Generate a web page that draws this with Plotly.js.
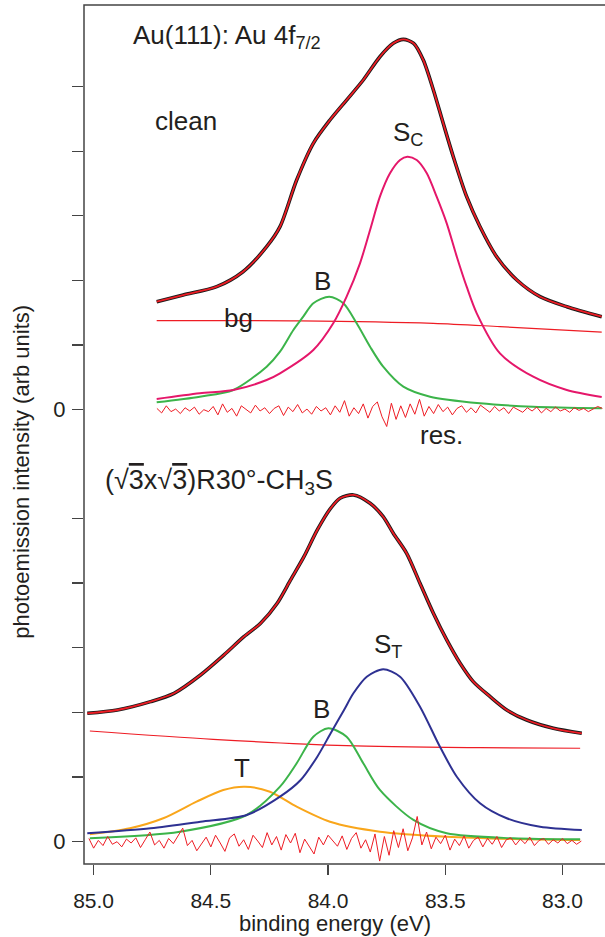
<!DOCTYPE html>
<html>
<head>
<meta charset="utf-8">
<script src="https://cdn.plot.ly/plotly-3.0.1.min.js"></script>
<style>html,body{margin:0;padding:0;background:#fff;}#chart{width:605px;height:937px;}</style>
</head>
<body>
<div id="chart"></div>
<script>
// ---------- clean Au(111) panel (binding energy in eV, intensity in arb. units) ----------
const cleanDataE = [84.731, 84.618, 84.475, 84.363, 84.262, 84.205, 84.134, 84.063, 83.992, 83.921, 83.850, 83.779, 83.722, 83.679, 83.635, 83.594, 83.551, 83.509, 83.466, 83.409, 83.352, 83.281, 83.195, 83.096, 82.982, 82.833];
const cleanDataI = [1.671, 1.774, 1.903, 2.134, 2.521, 2.831, 3.553, 4.121, 4.481, 4.790, 5.100, 5.460, 5.667, 5.729, 5.667, 5.409, 4.945, 4.430, 3.913, 3.295, 2.831, 2.367, 2.006, 1.748, 1.593, 1.439];
const cleanScE = [84.731, 84.547, 84.404, 84.262, 84.205, 84.063, 83.978, 83.921, 83.864, 83.821, 83.779, 83.736, 83.693, 83.662, 83.622, 83.579, 83.537, 83.494, 83.451, 83.409, 83.366, 83.267, 83.125, 82.982, 82.833];
const cleanScI = [0.166, 0.254, 0.305, 0.459, 0.563, 0.923, 1.336, 1.748, 2.264, 2.780, 3.295, 3.657, 3.862, 3.913, 3.862, 3.657, 3.295, 2.883, 2.367, 1.903, 1.491, 0.872, 0.510, 0.305, 0.196];
const cleanBE = [84.731, 84.547, 84.404, 84.262, 84.205, 84.148, 84.106, 84.063, 83.995, 83.935, 83.878, 83.821, 83.765, 83.679, 83.565, 83.352, 83.125, 82.833];
const cleanBI = [0.114, 0.201, 0.305, 0.665, 0.897, 1.233, 1.439, 1.646, 1.748, 1.646, 1.336, 0.974, 0.665, 0.356, 0.201, 0.099, 0.046, 0.022];
const cleanBgE = [84.731, 84.120, 83.551, 83.267, 82.833];
const cleanBgI = [1.377, 1.375, 1.336, 1.285, 1.200];
const cleanRes = [[84.73,0.02],[84.71,-0.05],[84.69,0.06],[84.67,-0.03],[84.65,0.01],[84.63,-0.06],[84.61,0.03],[84.59,-0.02],[84.57,0.04],[84.55,-0.07],[84.53,0.00],[84.51,-0.03],[84.49,0.05],[84.47,-0.08],[84.45,0.09],[84.43,-0.04],[84.41,0.02],[84.39,-0.10],[84.37,0.06],[84.35,0.01],[84.33,-0.05],[84.31,0.07],[84.29,-0.02],[84.27,0.03],[84.25,-0.06],[84.23,0.02],[84.21,0.06],[84.19,-0.09],[84.17,0.04],[84.15,-0.03],[84.13,0.08],[84.11,-0.05],[84.09,0.01],[84.07,-0.07],[84.05,0.05],[84.03,-0.02],[84.01,0.03],[83.99,-0.08],[83.97,0.06],[83.95,-0.04],[83.93,0.14],[83.91,-0.10],[83.89,0.03],[83.87,-0.06],[83.85,0.09],[83.83,-0.13],[83.81,0.05],[83.79,0.12],[83.77,-0.11],[83.75,-0.26],[83.73,0.10],[83.71,-0.15],[83.69,0.06],[83.67,-0.12],[83.65,0.09],[83.63,-0.07],[83.61,0.16],[83.59,-0.10],[83.57,0.05],[83.55,-0.06],[83.53,0.08],[83.51,-0.03],[83.49,0.04],[83.47,-0.08],[83.45,0.02],[83.43,0.06],[83.41,-0.04],[83.39,0.03],[83.37,-0.05],[83.35,0.07],[83.33,0.01],[83.31,-0.04],[83.29,0.05],[83.27,-0.02],[83.25,0.03],[83.23,-0.06],[83.21,0.04],[83.19,0.00],[83.17,-0.04],[83.15,0.03],[83.13,-0.02],[83.11,0.04],[83.09,-0.05],[83.07,0.02],[83.05,-0.03],[83.03,0.04],[83.01,-0.02],[82.99,0.01],[82.97,-0.04],[82.95,0.03],[82.93,-0.01],[82.91,0.02],[82.89,-0.03],[82.87,0.01],[82.85,0.05],[82.83,0.02]];

// ---------- (sqrt3 x sqrt3)R30-CH3S panel ----------
const thiolDataE = [85.027, 84.899, 84.757, 84.657, 84.544, 84.444, 84.359, 84.288, 84.217, 84.160, 84.103, 84.046, 83.989, 83.949, 83.892, 83.821, 83.765, 83.722, 83.665, 83.608, 83.551, 83.494, 83.437, 83.381, 83.309, 83.238, 83.153, 83.039, 82.918];
const thiolDataI = [1.986, 2.037, 2.166, 2.295, 2.578, 2.888, 3.171, 3.378, 3.688, 4.048, 4.408, 4.821, 5.157, 5.312, 5.363, 5.234, 5.027, 4.770, 4.461, 3.997, 3.533, 3.120, 2.759, 2.475, 2.243, 2.037, 1.882, 1.754, 1.677];
const thiolStE = [85.027, 84.757, 84.544, 84.347, 84.205, 84.117, 84.046, 83.989, 83.932, 83.892, 83.835, 83.765, 83.693, 83.608, 83.523, 83.451, 83.352, 83.238, 83.096, 82.918];
const thiolStI = [0.130, 0.207, 0.309, 0.413, 0.696, 0.954, 1.315, 1.677, 2.037, 2.295, 2.552, 2.667, 2.552, 2.088, 1.469, 1.005, 0.594, 0.362, 0.232, 0.181];
const thiolBE = [85.016, 84.632, 84.347, 84.205, 84.134, 84.063, 83.999, 83.921, 83.850, 83.779, 83.636, 83.494, 83.210, 82.925];
const thiolBI = [0.053, 0.155, 0.413, 0.851, 1.213, 1.624, 1.754, 1.624, 1.213, 0.800, 0.336, 0.130, 0.053, 0.037];
const thiolTE = [85.016, 84.845, 84.703, 84.561, 84.447, 84.355, 84.248, 84.134, 83.992, 83.779, 83.494, 83.210, 82.925];
const thiolTI = [0.114, 0.207, 0.362, 0.619, 0.800, 0.851, 0.773, 0.541, 0.309, 0.155, 0.077, 0.042, 0.026];
const thiolBgE = [85.016, 84.490, 83.921, 83.352, 82.925];
const thiolBgI = [1.712, 1.584, 1.485, 1.454, 1.445];
const thiolRes = [[85.02,0.05],[85.00,-0.10],[84.98,0.02],[84.96,-0.06],[84.94,0.08],[84.92,-0.04],[84.90,0.00],[84.88,-0.08],[84.86,0.04],[84.84,-0.02],[84.82,0.06],[84.80,-0.09],[84.78,0.03],[84.76,0.15],[84.74,-0.05],[84.72,0.02],[84.70,-0.10],[84.68,0.05],[84.66,-0.03],[84.64,0.08],[84.62,0.21],[84.60,-0.06],[84.58,0.02],[84.56,-0.14],[84.54,-0.04],[84.52,0.07],[84.50,-0.08],[84.48,0.10],[84.46,-0.02],[84.44,-0.15],[84.42,0.06],[84.40,0.12],[84.38,-0.07],[84.36,0.03],[84.34,-0.12],[84.32,0.10],[84.30,0.01],[84.28,-0.09],[84.26,0.14],[84.24,-0.05],[84.22,0.08],[84.20,-0.13],[84.18,0.11],[84.16,-0.02],[84.14,0.13],[84.12,-0.17],[84.10,0.04],[84.08,-0.08],[84.06,-0.19],[84.04,0.07],[84.02,-0.05],[84.00,0.10],[83.98,0.02],[83.96,-0.07],[83.94,0.09],[83.92,-0.12],[83.90,0.05],[83.88,0.14],[83.86,-0.10],[83.84,0.03],[83.82,-0.16],[83.80,0.12],[83.78,-0.30],[83.76,0.08],[83.74,-0.21],[83.72,0.17],[83.70,-0.09],[83.68,0.20],[83.66,-0.14],[83.64,0.06],[83.62,0.39],[83.60,-0.05],[83.58,0.15],[83.56,-0.11],[83.54,0.07],[83.52,-0.03],[83.50,0.10],[83.48,-0.13],[83.46,0.04],[83.44,-0.06],[83.42,0.09],[83.40,-0.10],[83.38,0.02],[83.36,0.07],[83.34,-0.08],[83.32,0.05],[83.30,-0.04],[83.28,0.08],[83.26,-0.09],[83.24,0.03],[83.22,0.06],[83.20,-0.05],[83.18,0.04],[83.16,-0.03],[83.14,0.07],[83.12,-0.06],[83.10,0.02],[83.08,0.05],[83.06,-0.04],[83.04,0.03],[83.02,-0.02],[83.00,0.05],[82.98,-0.03],[82.96,0.02],[82.94,-0.04],[82.92,0.01]];

// ---------- axis ticks ----------
const xTickVals = [85.0, 84.5, 84.0, 83.5, 83.0];
const xTickText = ['85.0', '84.5', '84.0', '83.5', '83.0'];
const yTickVals = [0, 1, 2, 3, 4, 5];
const yZeroVals = [0];
const yZeroText = ['0'];

// ---------- styling ----------
const FONT = 'Liberation Sans, Arial, Helvetica, sans-serif';
const TXT = '#231f20';
const C = { fit: '#ee1c24', data: '#1a1a1a', sc: '#e5176a', b: '#3cb44a', st: '#2e3192', t: '#f9a61b', bg: '#ee1c24', res: '#ee1c24' };

function line(x, y, color, width, yaxis, smooth) {
  return { x: x, y: y, type: 'scatter', mode: 'lines', yaxis: yaxis, hoverinfo: 'skip',
    line: { color: color, width: width, shape: smooth ? 'spline' : 'linear', smoothing: 0.8 } };
}

const traces = [
  // clean panel (top)
  line(cleanBgE, cleanBgI, C.bg, 1.2, 'y2', true),
  line(cleanBE, cleanBI, C.b, 2, 'y2', true),
  line(cleanScE, cleanScI, C.sc, 2, 'y2', true),
  line(cleanRes.map(p => p[0]), cleanRes.map(p => p[1]), C.res, 1, 'y2', false),
  line(cleanDataE, cleanDataI, C.data, 3.6, 'y2', true),
  line(cleanDataE, cleanDataI, C.fit, 1.8, 'y2', true),
  // thiol panel (bottom)
  line(thiolBgE, thiolBgI, C.bg, 1.2, 'y', true),
  line(thiolTE, thiolTI, C.t, 2, 'y', true),
  line(thiolBE, thiolBI, C.b, 2, 'y', true),
  line(thiolStE, thiolStI, C.st, 2, 'y', true),
  line(thiolRes.map(p => p[0]), thiolRes.map(p => p[1]), C.res, 1, 'y', false),
  line(thiolDataE, thiolDataI, C.data, 3.6, 'y', true),
  line(thiolDataE, thiolDataI, C.fit, 1.8, 'y', true),
  // empty traces so the "0"-label axes exist
  { x: [], y: [], type: 'scatter', yaxis: 'y3', hoverinfo: 'skip' },
  { x: [], y: [], type: 'scatter', yaxis: 'y4', hoverinfo: 'skip' }
];

const tickBase = { ticks: 'outside', ticklen: 11, tickwidth: 1.2, tickcolor: '#444', showgrid: false,
  zeroline: false, showline: false, fixedrange: true };
const yTicksOnly = Object.assign({ tickvals: yTickVals, showticklabels: false }, tickBase);
const yZeroLabel = Object.assign({}, tickBase, { tickvals: yZeroVals, ticktext: yZeroText, showticklabels: true,
  ticklabelstandoff: 2, tickfont: { family: FONT, size: 22, color: TXT }, side: 'left' });

const BOT_RANGE = [-0.345, 6.298];
const TOP_RANGE = [-0.3836, 6.260];

function ann(text, x, y, size, xanchor, extra) {
  return Object.assign({ text: text, x: x, y: y, xref: 'paper', yref: 'paper', showarrow: false,
    xanchor: xanchor, yanchor: 'middle', font: { family: FONT, size: size, color: TXT } }, extra || {});
}

const layout = {
  width: 605, height: 937,
  margin: { l: 84, r: 0, t: 5, b: 73 },
  paper_bgcolor: '#fff', plot_bgcolor: '#fff',
  showlegend: false,
  xaxis: { range: [85.041, 82.819], tickvals: xTickVals, ticktext: xTickText, ticks: 'outside', ticklen: 10,
    tickwidth: 1.2, tickcolor: '#444', showgrid: false, zeroline: false, showline: false, anchor: 'y',
    ticklabelstandoff: 8, tickfont: { family: FONT, size: 21, color: TXT }, fixedrange: true },
  yaxis: Object.assign({ domain: [0, 0.5], range: BOT_RANGE }, yTicksOnly),
  yaxis2: Object.assign({ domain: [0.5, 1], range: TOP_RANGE, anchor: 'x' }, yTicksOnly),
  yaxis3: Object.assign({ overlaying: 'y', range: BOT_RANGE, anchor: 'x' }, yZeroLabel),
  yaxis4: Object.assign({ overlaying: 'y2', range: TOP_RANGE, anchor: 'x' }, yZeroLabel),
  shapes: [{ type: 'rect', xref: 'paper', yref: 'paper', x0: 0, x1: 1.01, y0: 0, y1: 1,
    line: { color: '#444', width: 1.5 }, fillcolor: 'rgba(0,0,0,0)' }],
  annotations: [
    ann('Au(111): Au 4f<sub>7/2</sub>', 0.0902, 0.9639, 26, 'left'),
    ann('clean', 0.1324, 0.8650, 26, 'left'),
    ann('S<sub>C</sub>', 0.5893, 0.8506, 26, 'left'),
    ann('B', 0.4587, 0.6787, 26, 'center'),
    ann('bg', 0.2643, 0.6356, 26, 'left'),
    ann('res.', 0.6411, 0.4994, 26, 'left'),
    ann('(√<span style="text-decoration:overline">3</span>x√<span style="text-decoration:overline">3</span>)R30°-CH<sub>3</sub>S', 0.0365, 0.4451, 27, 'left'),
    ann('S<sub>T</sub>', 0.5522, 0.2538, 26, 'left'),
    ann('B', 0.4549, 0.1799, 26, 'center'),
    ann('T', 0.3033, 0.1114, 26, 'center'),
    ann('photoemission intensity (arb units)', -0.119, 0.4567, 22, 'center', { textangle: -90 }),
    ann('binding energy (eV)', 0.4827, -0.0687, 22, 'center')
  ]
};

Plotly.newPlot('chart', traces, layout, { staticPlot: true, displayModeBar: false });
</script>
</body>
</html>
